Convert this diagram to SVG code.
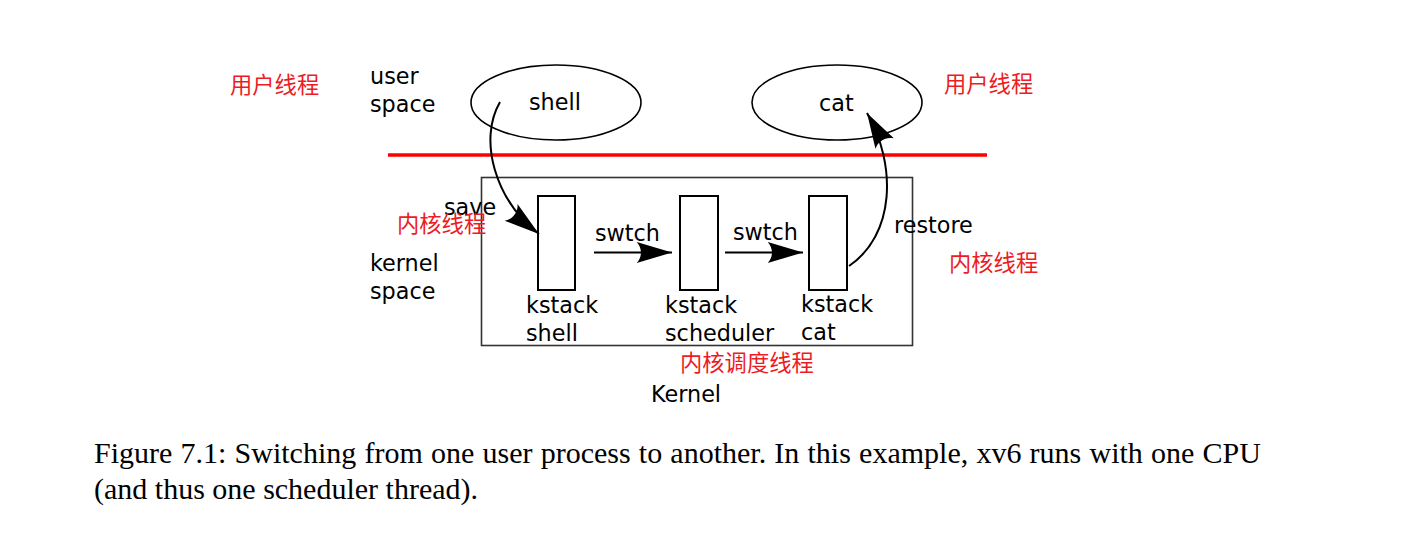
<svg xmlns="http://www.w3.org/2000/svg" width="1403" height="548" viewBox="0 0 1403 548">
<style>
  .t { font-family: "DejaVu Sans", sans-serif; font-size: 22.3px; fill: #000; }
  .r { font-family: "Noto Sans CJK SC", sans-serif; font-size: 22.3px; fill: #ec1c24; }
  .cap { font-family: "Liberation Serif", serif; font-size: 30px; fill: #000; }
  .stack { fill: #fff; stroke: #000; stroke-width: 2; }
  .proc { fill: none; stroke: #000; stroke-width: 1.6; }
  .conn { fill: none; stroke: #000; stroke-width: 2; marker-end: url(#ah); }
</style>
<defs>
  <marker id="ah" markerUnits="userSpaceOnUse" markerWidth="40" markerHeight="30" viewBox="-32 -11 34 22" refX="0" refY="0" orient="auto" overflow="visible">
    <path d="M0,0 L-30,-9 C-25.2,-3.6 -25.2,3.6 -30,9 Z" fill="#000"/>
  </marker>
</defs>
<rect width="1403" height="548" fill="#fff"/>

<g id="boundary">
  <line x1="388" y1="155" x2="987" y2="155" stroke="#ff0000" stroke-width="3.4"/>
</g>

<g id="kernel">
  <rect x="481.5" y="177.5" width="431" height="168" fill="none" stroke="#333" stroke-width="1.6"/>
  <text class="t" x="651" y="402">Kernel</text>
</g>

<g id="shell">
  <ellipse cx="556" cy="102.5" rx="85" ry="37.5" class="proc"/>
  <text class="t" x="529" y="110">shell</text>
</g>

<g id="cat">
  <ellipse cx="837" cy="102.5" rx="85" ry="37.5" class="proc"/>
  <text class="t" x="819" y="111">cat</text>
</g>

<g id="kstack-shell">
  <rect x="538" y="196" width="37" height="94" class="stack"/>
  <text class="t" x="526" y="313">kstack</text>
  <text class="t" x="526" y="341">shell</text>
</g>

<g id="kstack-scheduler">
  <rect x="680" y="196" width="38" height="94" class="stack"/>
  <text class="t" x="665" y="313">kstack</text>
  <text class="t" x="665" y="341">scheduler</text>
</g>

<g id="kstack-cat">
  <rect x="809" y="196" width="38" height="94" class="stack"/>
  <text class="t" x="801" y="312">kstack</text>
  <text class="t" x="801" y="340">cat</text>
</g>

<g id="connectors">
  <path class="conn" d="M500,102 C478,140 495,200 539,234"/>
  <path class="conn" d="M594,252.5 L672,252.5"/>
  <path class="conn" d="M725,252.5 L803,252.5"/>
  <path class="conn" d="M849,266 C895,235 897,165 867,113"/>
</g>

<g id="labels">
  <text class="t" x="370" y="84">user</text>
  <text class="t" x="370" y="112">space</text>
  <text class="t" x="370" y="271">kernel</text>
  <text class="t" x="370" y="299">space</text>
  <text class="t" x="444" y="215">save</text>
  <text class="t" x="894" y="233">restore</text>
  <text class="t" x="595" y="241">swtch</text>
  <text class="t" x="733" y="240">swtch</text>
  <text class="r" x="230" y="93">用户线程</text>
  <text class="r" x="944" y="92">用户线程</text>
  <text class="r" x="397" y="232">内核线程</text>
  <text class="r" x="949" y="271">内核线程</text>
  <text class="r" x="680" y="371">内核调度线程</text>
</g>

<g id="caption">
  <text class="cap" x="94" y="463" word-spacing="0.7">Figure 7.1: Switching from one user process to another. In this example, xv6 runs with one CPU</text>
  <text class="cap" x="94" y="499">(and thus one scheduler thread).</text>
</g>
</svg>
